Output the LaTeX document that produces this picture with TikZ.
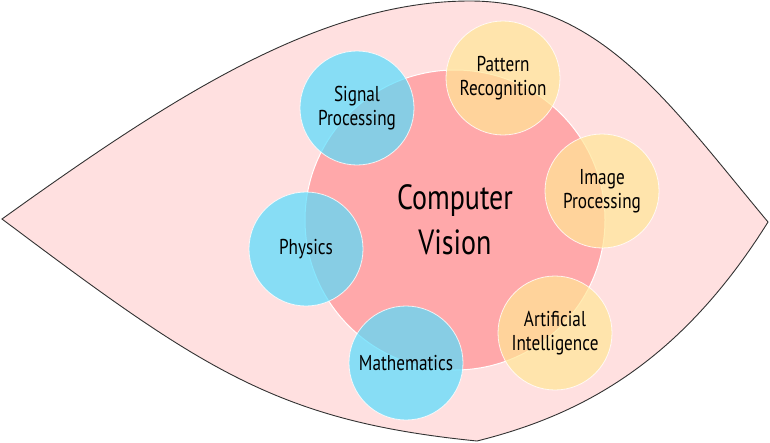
\documentclass[tikz,border=0pt]{standalone}
\usepackage{fontspec}
\setmainfont{PT Sans}[FakeStretch=0.8]
\definecolor{leaffill}{RGB}{255,224,224}
\definecolor{leafline}{RGB}{50,50,50}
\definecolor{cvpink}{RGB}{255,168,170}
\definecolor{topicblue}{RGB}{85,221,254}
\definecolor{topicyellow}{RGB}{255,230,150}
\tikzset{
  leaf/.style={fill=leaffill, draw=leafline, line width=0.9pt},
  core/.style={circle, fill=cvpink, draw=white, line width=1pt,
    minimum size=300pt, inner sep=0pt, align=center,
    font=\fontsize{35}{45}\selectfont},
  topic/.style={circle, draw=white, draw opacity=0.8, line width=0.8pt,
    fill opacity=0.7, text opacity=1, minimum size=114pt, inner sep=0pt,
    align=center, font=\fontsize{21.5}{24.5}\selectfont},
  bluetopic/.style={topic, fill=topicblue},
  yellowtopic/.style={topic, fill=topicyellow}
}
\begin{document}
\begin{tikzpicture}[x=1pt,y=-1pt]
\useasboundingbox (0,0) rectangle (770,442);
% leaf-shaped background
\coordinate (lp) at (2,219);
\coordinate (tp) at (470,1);
\coordinate (rp) at (768,222);
\coordinate (bp) at (477,441);
\path[leaf] (lp) .. controls (172,97) and (320,1) .. (tp)
  .. controls (600,1) and (668,102) .. (rp)
  .. controls (678,366) and (577,416) .. (bp)
  .. controls (277,421) and (202,369) .. (lp) -- cycle;
% central field
\node[core] (cv) at (455,220) {Computer\\Vision};
% surrounding fields
\node[bluetopic] (sp) at (357,108) {Signal\\Processing};
\node[bluetopic] (ph) at (306,249) {Physics};
\node[bluetopic] (ma) at (406,363) {Mathematics};
\node[yellowtopic] (pr) at (503,78) {Pattern\\Recognition};
\node[yellowtopic] (ip) at (602,191) {Image\\Processing};
\node[yellowtopic] (ai) at (555,333) {Artificial\\Intelligence};
\end{tikzpicture}
\end{document}
